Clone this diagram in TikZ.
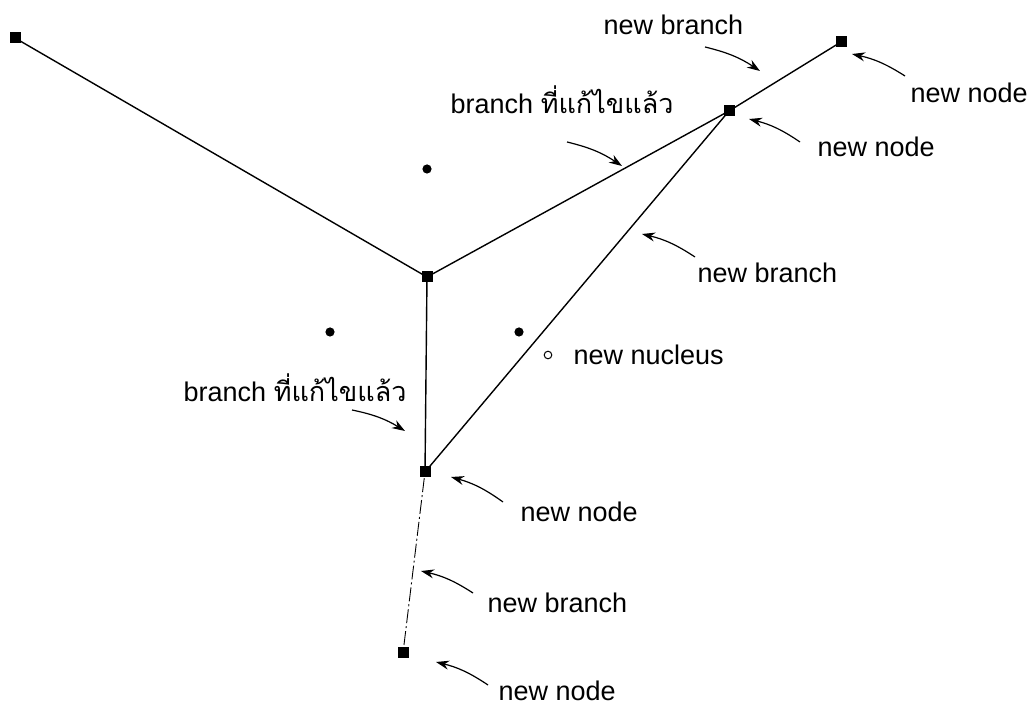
\documentclass[tikz,border=0pt]{standalone}
\usepackage{fontspec}
\setmainfont{Liberation Sans}
\newfontfamily\thaifont[Script=Thai]{Loma}
\usetikzlibrary{arrows.meta}
\tikzset{
  vertex/.style={fill,inner sep=0pt,minimum size=5.5pt},
  seed/.style={circle,fill,inner sep=0pt,minimum size=4.6pt},
  newseed/.style={circle,draw,line width=0.5pt,inner sep=0pt,minimum size=3.8pt},
  lbl/.style={inner sep=0pt,anchor=base west,font=\fontsize{13.5pt}{16pt}\selectfont},
  pointer/.style={-{Stealth[length=6.5pt,width=4.5pt]},line width=0.6pt},
}
\begin{document}
\begin{tikzpicture}[x=0.5pt,y=-0.5pt,line width=0.7pt]
  \useasboundingbox (0,0) rectangle (1029,705);

  \node[vertex] (a) at (15,38) {};
  \node[vertex] (b) at (841,42) {};
  \node[vertex] (c) at (729,111) {};
  \node[vertex] (d) at (427,277) {};
  \node[vertex] (e) at (425,472) {};
  \node[vertex] (f) at (403,653) {};

  \node[seed] (s1) at (427,169) {};
  \node[seed] (s2) at (330,332) {};
  \node[seed] (s3) at (519,332) {};
  \node[newseed] (s4) at (548,355) {};

  \draw (a.center) -- (d.center) -- (c.center) -- (b.center);
  \draw (d.center) -- (e.center) -- (c.center);
  \draw[line width=0.45pt,dash pattern=on 7pt off 1.5pt on 1pt off 1.5pt] (e) -- (f);

  % labels
  \node[lbl] (l1) at (603,35)  {new branch};
  \node[lbl] (l2) at (910,103) {new node};
  \node[lbl] (l3) at (817,157) {new node};
  \node[lbl] (l4) at (450,114) {branch {\thaifont ที่แก้ไขแล้ว}};
  \node[lbl] (l5) at (697,283) {new branch};
  \node[lbl] (l6) at (573,365) {new nucleus};
  \node[lbl] (l7) at (183,402) {branch {\thaifont ที่แก้ไขแล้ว}};
  \node[lbl] (l8) at (520,522) {new node};
  \node[lbl] (l9) at (487,613) {new branch};
  \node[lbl] (l10) at (498,700) {new node};

  % arrows
  \coordinate (t1) at (705,47);  \coordinate (h1) at (760,71);
  \coordinate (t2) at (905,76);  \coordinate (h2) at (852,54);
  \coordinate (t3) at (800,142); \coordinate (h3) at (749,119);
  \coordinate (t4) at (567,142); \coordinate (h4) at (622,166);
  \coordinate (t5) at (695,257); \coordinate (h5) at (642,234);
  \coordinate (t6) at (352,410); \coordinate (h6) at (405,431);
  \coordinate (t7) at (503,502); \coordinate (h7) at (451,477);
  \coordinate (t8) at (473,593); \coordinate (h8) at (421,571);
  \coordinate (t9) at (488,685); \coordinate (h9) at (436,662);

  \foreach \i in {1,4,6}
    \draw[pointer] (t\i) to[bend left=10] (h\i);
  \foreach \i in {2,3,5,7,8,9}
    \draw[pointer] (t\i) to[bend right=10] (h\i);
\end{tikzpicture}
\end{document}
